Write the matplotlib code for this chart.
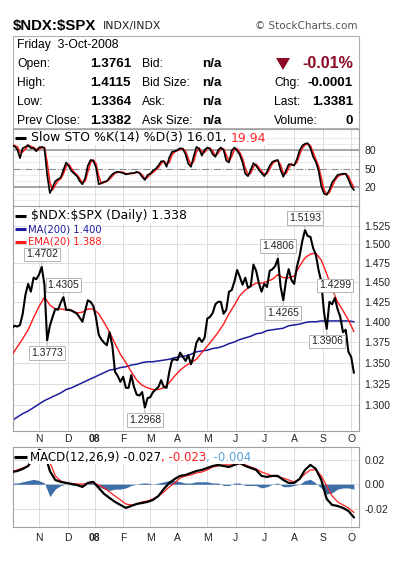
import numpy as np
import pandas as pd
import matplotlib
matplotlib.use("Agg")
import matplotlib.pyplot as plt
from matplotlib.patches import Polygon, Rectangle
from matplotlib.ticker import FixedLocator, NullLocator, NullFormatter

plt.rcParams['font.family'] = ['Liberation Sans', 'DejaVu Sans']
plt.rcParams['text.parse_math'] = False

W, H = 410, 565

# ---------------- data ----------------
holidays = ['2007-11-22', '2007-12-25', '2008-01-01', '2008-01-21', '2008-02-18',
            '2008-03-21', '2008-05-26', '2008-07-04', '2008-09-01']
month_starts = ['2007-11-01', '2007-12-01', '2008-01-01', '2008-02-01', '2008-03-01', '2008-04-01',
                '2008-05-01', '2008-06-01', '2008-07-01', '2008-08-01', '2008-09-01', '2008-10-01']
month_labels = ['N', 'D', '08', 'F', 'M', 'A', 'M', 'J', 'J', 'A', 'S', 'O']

# daily ratio, every second trading day
price = [1.392, 1.395, 1.394, 1.396, 1.410, 1.434, 1.448, 1.438, 1.456, 1.454,
         1.460, 1.470, 1.447, 1.377, 1.395, 1.406, 1.416, 1.415, 1.424, 1.431,
         1.415, 1.415, 1.414, 1.412, 1.410, 1.405, 1.400, 1.414, 1.427, 1.425,
         1.420, 1.405, 1.384, 1.378, 1.374, 1.371, 1.387, 1.371, 1.339, 1.334,
         1.327, 1.333, 1.320, 1.320, 1.335, 1.321, 1.312, 1.311, 1.315, 1.297,
         1.308, 1.309, 1.315, 1.318, 1.321, 1.329, 1.321, 1.320, 1.339, 1.353,
         1.354, 1.353, 1.362, 1.357, 1.352, 1.359, 1.348, 1.358, 1.374, 1.380,
         1.375, 1.380, 1.404, 1.406, 1.411, 1.422, 1.425, 1.425, 1.410, 1.415,
         1.438, 1.440, 1.451, 1.466, 1.457, 1.447, 1.456, 1.443, 1.445, 1.473,
         1.465, 1.449, 1.438, 1.448, 1.444, 1.465, 1.467, 1.471, 1.481, 1.445,
         1.427, 1.452, 1.467, 1.453, 1.448, 1.470, 1.484, 1.504, 1.519, 1.511,
         1.510, 1.495, 1.486, 1.466, 1.451, 1.412, 1.391, 1.425, 1.422, 1.430,
         1.416, 1.406, 1.387, 1.390, 1.363, 1.357, 1.338]

# every fourth trading day
ema20 = [1.359, 1.369, 1.379, 1.390, 1.405, 1.419, 1.431, 1.421, 1.416, 1.416,
         1.415, 1.414, 1.411, 1.412, 1.416, 1.416, 1.410, 1.399, 1.387, 1.373,
         1.360, 1.350, 1.339, 1.329, 1.323, 1.320, 1.318, 1.318, 1.320, 1.326,
         1.334, 1.341, 1.346, 1.350, 1.354, 1.362, 1.370, 1.378, 1.387, 1.397,
         1.410, 1.421, 1.433, 1.440, 1.445, 1.449, 1.449, 1.451, 1.454, 1.460,
         1.456, 1.456, 1.458, 1.471, 1.482, 1.487, 1.488, 1.479, 1.461, 1.441,
         1.425, 1.414, 1.402, 1.388]
ma200 = [1.282, 1.286, 1.290, 1.293, 1.297, 1.301, 1.305, 1.308, 1.311, 1.314,
         1.318, 1.320, 1.323, 1.326, 1.329, 1.332, 1.335, 1.338, 1.341, 1.342,
         1.344, 1.345, 1.347, 1.348, 1.350, 1.351, 1.351, 1.352, 1.353, 1.354,
         1.356, 1.357, 1.358, 1.360, 1.363, 1.364, 1.365, 1.367, 1.368, 1.370,
         1.373, 1.375, 1.378, 1.380, 1.382, 1.385, 1.386, 1.389, 1.390, 1.391,
         1.392, 1.395, 1.396, 1.397, 1.399, 1.400, 1.400, 1.401, 1.401, 1.401,
         1.401, 1.401, 1.401, 1.400]

# slow stochastic, every second trading day
sto_k = [88, 86, 81, 67, 83, 85, 88, 83, 83, 78,
         84, 85, 83, 40, 11, 20, 30, 33, 36, 48,
         60, 54, 46, 42, 38, 30, 25, 35, 55, 64,
         63, 52, 25, 27, 29, 30, 36, 41, 44, 45,
         44, 43, 41, 42, 43, 43, 45, 43, 37, 32,
         40, 42, 47, 50, 55, 62, 62, 53, 68, 77,
         78, 80, 83, 82, 73, 58, 53, 70, 85, 82,
         71, 80, 84, 82, 73, 69, 80, 84, 80, 63,
         60, 79, 84, 79, 72, 60, 42, 38, 48, 59,
         55, 48, 43, 38, 45, 55, 61, 63, 64, 48,
         37, 47, 57, 57, 55, 65, 79, 87, 90, 91,
         83, 69, 61, 47, 22, 10, 8, 16, 28, 34,
         40, 41, 42, 42, 33, 22, 16]
sto_d = [88, 87, 85, 76, 77, 82, 86, 86, 84, 81,
         81, 84, 84, 60, 28, 16, 24, 31, 34, 42,
         54, 57, 50, 44, 40, 34, 28, 30, 45, 60,
         64, 58, 38, 26, 28, 30, 33, 38, 43, 44,
         45, 44, 42, 42, 42, 43, 44, 44, 40, 34,
         36, 41, 44, 48, 52, 58, 62, 58, 60, 72,
         77, 79, 81, 82, 78, 66, 56, 62, 77, 83,
         77, 76, 82, 83, 78, 71, 75, 82, 82, 72,
         62, 70, 81, 82, 76, 66, 51, 40, 43, 53,
         57, 52, 46, 41, 42, 50, 58, 62, 63, 56,
         43, 42, 52, 57, 56, 60, 72, 83, 88, 90,
         87, 76, 65, 54, 35, 16, 9, 12, 22, 31,
         37, 40, 41, 42, 38, 28, 20]

# MACD(12,26,9), every fourth trading day
macd = [0.0100, 0.0108, 0.0125, 0.0149, 0.0223, 0.0280, 0.0264, 0.0108, 0.0035, 0.0019,
        0.0011, 0.0002, -0.0006, -0.0022, 0.0011, 0.0019, -0.0030, -0.0079, -0.0112, -0.0144,
        -0.0169, -0.0193, -0.0177, -0.0161, -0.0153, -0.0144, -0.0128, -0.0096, -0.0038, 0.0011,
        0.0043, 0.0068, 0.0076, 0.0092, 0.0108, 0.0117, 0.0133, 0.0149, 0.0158, 0.0149,
        0.0141, 0.0158, 0.0174, 0.0149, 0.0133, 0.0117, 0.0068, 0.0060, 0.0068, 0.0068,
        0.0035, 0.0011, 0.0011, 0.0043, 0.0117, 0.0158, 0.0125, 0.0035, -0.0120, -0.0169,
        -0.0177, -0.0193, -0.0218, -0.0270]
macd_signal = [0.0100, 0.0117, 0.0133, 0.0149, 0.0190, 0.0223, 0.0247, 0.0182, 0.0068, 0.0027,
               0.0011, 0.0007, 0.0002, 0.0002, 0.0007, 0.0011, -0.0006, -0.0030, -0.0063, -0.0096,
               -0.0128, -0.0161, -0.0169, -0.0161, -0.0144, -0.0136, -0.0120, -0.0096, -0.0063, -0.0022,
               0.0011, 0.0051, 0.0068, 0.0076, 0.0092, 0.0100, 0.0117, 0.0141, 0.0149, 0.0158,
               0.0158, 0.0158, 0.0166, 0.0158, 0.0141, 0.0125, 0.0100, 0.0084, 0.0068, 0.0060,
               0.0051, 0.0035, 0.0019, 0.0043, 0.0084, 0.0117, 0.0117, 0.0068, -0.0014, -0.0096,
               -0.0144, -0.0169, -0.0193, -0.0230]
macd_hist = [0.001, 0.001, 0.002, 0.003, 0.004, 0.003, 0.001, -0.010, -0.004, -0.001,
             0.000, -0.0005, -0.001, -0.002, 0.0005, 0.001, -0.002, -0.004, -0.005, -0.004,
             -0.004, -0.003, -0.001, 0.000, 0.001, 0.001, 0.000, 0.001, 0.002, 0.003,
             0.003, 0.002, 0.001, 0.001, 0.002, 0.002, 0.002, 0.001, 0.001, -0.001,
             -0.001, 0.001, 0.001, -0.001, -0.001, -0.001, -0.003, -0.002, 0.000, 0.001,
             -0.002, -0.002, -0.001, 0.000, 0.003, 0.004, 0.001, -0.003, -0.008, -0.007,
             -0.004, -0.003, -0.003, -0.004]

price_ticks = [1.300, 1.325, 1.350, 1.375, 1.400, 1.425, 1.450, 1.475, 1.500, 1.525]
sto_ticks = [20, 50, 80]
macd_ticks = [-0.02, 0.00, 0.02]

# labelled highs / lows: text, sample index in price, side (+1 above, -1 below)
peak_text = ['1.4702', '1.4305', '1.3773', '1.2968', '1.4806', '1.4265', '1.5193', '1.3906', '1.4299']
peak_idx = [11, 19, 13, 49, 98, 100, 108, 116, 119]
peak_side = [1, 1, -1, -1, 1, -1, 1, -1, 1]

info_left_labels = ['Open:', 'High:', 'Low:', 'Prev Close:']
info_left_values = ['1.3761', '1.4115', '1.3364', '1.3382']
info_mid_labels = ['Bid:', 'Bid Size:', 'Ask:', 'Ask Size:']
info_mid_values = ['n/a', 'n/a', 'n/a', 'n/a']
info_right_labels = ['', 'Chg:', 'Last:', 'Volume:']
info_right_values = ['-0.01%', '-0.0001', '1.3381', '0']

# ---------------- axes ----------------
dates = pd.bdate_range('2007-10-03', '2008-10-03')
dates = dates[~dates.isin(pd.to_datetime(holidays))]
n = len(dates)
month_pos = [int(np.searchsorted(dates.values, np.datetime64(m))) for m in month_starts]
x2 = np.arange(1, n, 2)[:len(price)]
x4 = np.arange(1, n, 4)[:len(ema20)]

fig = plt.figure(figsize=(W / 100, H / 100), dpi=100)
fig.patch.set_facecolor('white')


def rect(x0, y0, x1, y1):
    return [x0 / W, 1 - y1 / H, (x1 - x0) / W, (y1 - y0) / H]


XL = (1.84, 256.8)
GRID = '#dcdcdc'
SPINE = '#a0a0a0'
TXT = '#222222'


def style(ax, bottom_labels):
    ax.set_xlim(*XL)
    for s in ax.spines.values():
        s.set_color(SPINE)
        s.set_linewidth(0.8)
    ax.yaxis.tick_right()
    ax.tick_params(axis='y', length=0, pad=4, labelsize=7.5, colors=TXT)
    ax.set_xticks(month_pos)
    if bottom_labels:
        ax.set_xticklabels(month_labels)
        ax.get_xticklabels()[2].set_fontweight('bold')
    else:
        ax.set_xticklabels([])
    ax.tick_params(axis='x', length=0, labelsize=7.5, colors=TXT)
    for p in month_pos:
        ax.axvline(p, color=GRID, lw=0.7, zorder=0)


ax_sto = fig.add_axes(rect(13, 129, 359, 206))
ax_p = fig.add_axes(rect(13, 206, 359, 431))
ax_m = fig.add_axes(rect(13, 447, 359, 527))

# --- STO ---
style(ax_sto, False)
ax_sto.set_ylim(-9.8, 113.7)
for v in range(0, 101, 10):
    if v not in (20, 50, 80):
        ax_sto.axhline(v, color='#e6e6e6', lw=0.6, zorder=0)
ax_sto.axhline(80, color='#8c8c8c', lw=1.1, zorder=1)
ax_sto.axhline(20, color='#8c8c8c', lw=1.1, zorder=1)
ax_sto.axhline(50, color='#8c8c8c', lw=0.8, ls='-.', zorder=1)
ax_sto.plot(x2, sto_d, color='#ff2020', lw=1.2, zorder=3)
ax_sto.plot(x2, sto_k, color='black', lw=1.2, zorder=4)
ax_sto.set_yticks(sto_ticks)
ax_sto.set_yticklabels([str(t) for t in sto_ticks])

# --- price ---
style(ax_p, True)
ax_p.tick_params(axis='x', pad=2.5)
ax_p.set_yscale('log')
ax_p.set_ylim(1.2702, 1.5520)
ax_p.yaxis.set_major_locator(FixedLocator(price_ticks))
ax_p.yaxis.set_minor_locator(NullLocator())
ax_p.yaxis.set_minor_formatter(NullFormatter())
ax_p.set_yticklabels(['%.3f' % t for t in price_ticks])
for t in price_ticks:
    ax_p.axhline(t, color=GRID, lw=0.7, zorder=0)
ax_p.plot(x4, ma200, color='#1c1c9c', lw=1.1, zorder=2)
ax_p.plot(x4, ema20, color='#ff1a1a', lw=1.0, zorder=3)
ax_p.plot(x2, price, color='black', lw=1.5, zorder=4)
for txt, k, side in zip(peak_text, peak_idx, peak_side):
    ax_p.annotate(txt, xy=(x2[k], price[k]), xytext=(0, 9 * side), textcoords='offset points',
                  ha='center', va='center', fontsize=7.5, color=TXT, zorder=6,
                  bbox=dict(boxstyle='square,pad=0.18', fc='white', ec='#b4b4b4', lw=0.7),
                  arrowprops=dict(arrowstyle='-', color='#b4b4b4', lw=0.7, shrinkA=0, shrinkB=1.5))

# --- MACD ---
style(ax_m, True)
ax_m.tick_params(axis='x', pad=4)
ax_m.set_ylim(-0.0349, 0.0304)
for t in macd_ticks:
    ax_m.axhline(t, color=GRID, lw=0.7, zorder=0)
ax_m.fill_between(x4, 0, macd_hist, color='#3d6ea8', lw=0, zorder=2)
ax_m.plot(x4, macd_signal, color='#ff2020', lw=0.9, zorder=3)
ax_m.plot(x4, macd, color='black', lw=1.6, zorder=4)
ax_m.set_yticks(macd_ticks)
ax_m.set_yticklabels(['%.2f' % t for t in macd_ticks])

# ---------------- overlay in pixel coordinates ----------------
ov = fig.add_axes([0, 0, 1, 1], zorder=10)
ov.set_xlim(0, W)
ov.set_ylim(H, 0)
ov.axis('off')
ov.patch.set_alpha(0)

ov.text(13, 26, '$NDX:$SPX', fontsize=10.8, fontweight='bold', va='center', ha='left', color='black')
ov.text(103, 26, 'INDX/INDX', fontsize=7.8, family='DejaVu Sans', va='center', ha='left', color='#222222')
ov.text(358, 26, '\u00a9 StockCharts.com', fontsize=7.5, family='DejaVu Sans', va='center', ha='right',
        color='#555555')

ov.add_patch(Rectangle((13, 36), 346, 92, fc='white', ec='#b0b0b0', lw=0.8))
ov.text(17, 45, 'Friday  3-Oct-2008', fontsize=8.7, va='center', ha='left', color='black')
rows_y = [64, 83, 102, 121]
for i, y in enumerate(rows_y):
    ov.text(17, y, info_left_labels[i], fontsize=8.7, va='center', ha='left')
    ov.text(131, y, info_left_values[i], fontsize=9.6, fontweight='bold', va='center', ha='right')
    ov.text(142, y, info_mid_labels[i], fontsize=8.7, va='center', ha='left')
    ov.text(202, y, info_mid_values[i], fontsize=9.6, fontweight='bold', va='center', ha='left')
    if i == 0:
        ov.text(353, y, info_right_values[i], fontsize=11.6, fontweight='bold', va='center', ha='right',
                color='#8b0a26')
    else:
        ov.text(274, y, info_right_labels[i], fontsize=8.7, va='center', ha='left')
        ov.text(353, y, info_right_values[i], fontsize=9.6, fontweight='bold', va='center', ha='right')
ov.add_patch(Polygon([(276, 58), (290, 58), (283, 70)], closed=True, fc='#8b0a26', ec='none'))

fig.canvas.draw()
renderer = fig.canvas.get_renderer()
inv = ov.transData.inverted()


def chain(x, y, parts, size, family='DejaVu Sans'):
    for s, c in parts:
        t = ov.text(x, y, s, fontsize=size, family=family, color=c, va='center', ha='left',
                    bbox=dict(fc='white', ec='none', pad=0.6))
        bb = t.get_window_extent(renderer=renderer)
        x = inv.transform((bb.x1, bb.y0))[0]


# STO header
ov.plot([15, 26], [138, 138], color='black', lw=2.2, solid_capstyle='butt')
chain(31, 138, [('Slow STO %K(14) %D(3) 16.01, ', 'black'), ('19.94', '#ff2020')], 9.0)

# price legend
ov.plot([15, 26], [216, 216], color='black', lw=2.2, solid_capstyle='butt')
chain(31, 216, [('$NDX:$SPX (Daily) 1.338', 'black')], 8.9)
ov.plot([15, 26], [229, 229], color='#1c1c9c', lw=2.2, solid_capstyle='butt')
chain(28, 229, [('MA(200) 1.400', '#1c1c9c')], 7.2)
ov.plot([15, 26], [242, 242], color='#ff1a1a', lw=2.2, solid_capstyle='butt')
chain(28, 242, [('EMA(20) 1.388', '#ff1a1a')], 7.2)

# MACD header
ov.plot([14, 27], [457, 457], color='black', lw=2.2, solid_capstyle='butt')
chain(30, 457, [('MACD(12,26,9) -0.027', 'black'), (', -0.023', '#ff2020'), (', -0.004', '#5aa5dc')], 8.5)

fig.savefig('out.png', dpi=100, facecolor='white')
